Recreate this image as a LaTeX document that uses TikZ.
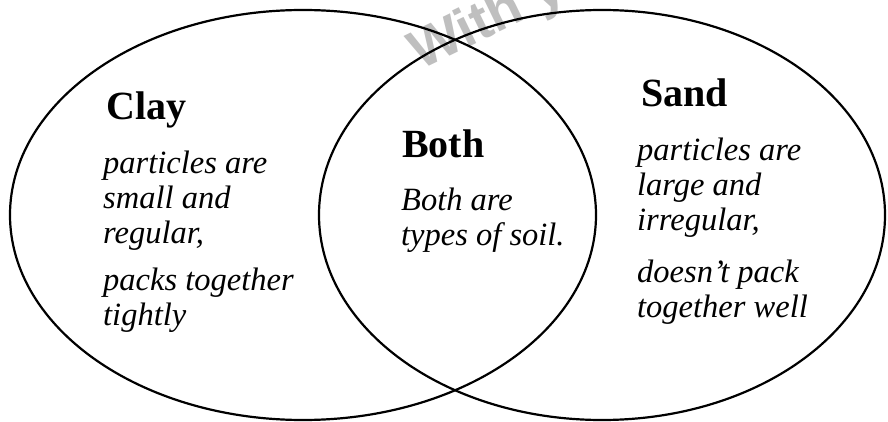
\documentclass[tikz,border=0pt]{standalone}
\usepackage{fontspec}
\setmainfont{Liberation Serif}
\setsansfont{Liberation Sans}
\usetikzlibrary{positioning}

\tikzset{
  ring/.style={line width=2.2pt},
  heading/.style={font=\fontsize{40}{44}\selectfont\bfseries, anchor=base west, inner sep=0pt},
  body/.style={font=\fontsize{32.5}{35}\selectfont\itshape, anchor=north west, align=left, inner sep=0pt},
  stamp/.style={font=\fontsize{55}{60}\selectfont\sffamily\bfseries, text=black!25, rotate=26, anchor=base west, inner sep=0pt}
}

\begin{document}
\begin{tikzpicture}[x=1pt, y=-1pt]
    \useasboundingbox (0,0) rectangle (888,422);

    % Watermark
    \node[stamp] (wm) at (420,71) {With y};

    % Circles
    \draw[ring] (303,215) ellipse [x radius=293pt, y radius=205pt];
    \draw[ring] (602,215) ellipse [x radius=283pt, y radius=205pt];

    % Clay
    \node[heading] (clay) at (106,120) {Clay};
    \node[body] (claytext) at (103,151) {particles are\\ small and\\ regular,\\[12pt] packs together\\ tightly};

    % Both
    \node[heading] (both) at (402,158) {Both};
    \node[body] (bothtext) at (401,188) {Both are\\ types of soil.};

    % Sand
    \node[heading] (sand) at (641,107) {Sand};
    \node[body] (sandtext) at (637,138) {particles are\\ large and\\ irregular,\\[17pt] doesn't pack\\ together well};
\end{tikzpicture}
\end{document}
